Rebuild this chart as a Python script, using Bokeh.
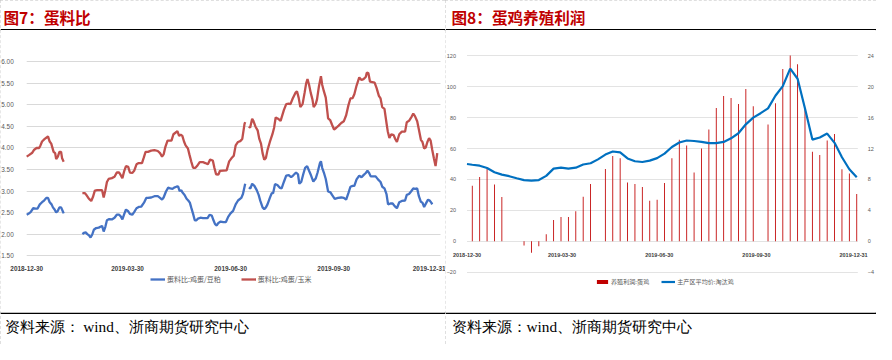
import pandas as pd
from bokeh.plotting import figure
from bokeh.models import (Range1d, LinearAxis, FixedTicker, NumeralTickFormatter,
                          DatetimeTickFormatter, Legend, LegendItem, Label, Span,
                          BoxAnnotation, ColumnDataSource)
from bokeh.layouts import row, column
from bokeh.embed import file_html
from bokeh.resources import INLINE

# ---------------- data ----------------
BASE = "2018-12-30"          # day 0 of the left chart (days since this date)

# 图7 蛋料比:鸡蛋/豆粕 (blue) — three segments separated by data gaps
soy_days_1 = [0, 1.5, 3.5, 5.8, 7.9, 9.6, 11.7, 13.7, 15.5, 17.5, 19.0, 20.5, 22.2, 23.4, 24.9,
              26.3, 27.8, 29.2, 30.7, 32.2, 33.0]
soy_vals_1 = [2.45, 2.47, 2.51, 2.60, 2.59, 2.59, 2.69, 2.74, 2.78, 2.84, 2.84, 2.74, 2.69, 2.62, 2.57,
              2.50, 2.54, 2.62, 2.62, 2.53, 2.48]
soy_days_2 = [49.7, 51.2, 52.6, 54.1, 55.6, 57.0, 58.5, 59.9, 62.0, 64.3,
              65.8, 67.3, 68.7, 70.2, 71.6, 73.7, 76.0, 78.4, 80.4, 82.5,
              84.2, 85.4, 87.1, 88.6, 90.6, 92.1, 94.2, 95.9, 98.0, 100.0,
              102.3, 104.7, 106.7, 108.2, 111.1, 114.0, 117.0, 119.0, 120.8, 122.2,
              124.3, 126.3, 128.1, 130.1, 131.6, 133.6, 135.1, 136.5, 138.0, 138.9,
              140.9, 142.7, 144.2, 145.6, 146.8, 148.5, 150.0, 151.5, 152.9, 155.0,
              157.3, 159.4, 161.4, 163.2, 165.2, 166.7, 168.1, 169.6, 171.1, 173.1,
              175.4, 177.8, 179.8, 181.9, 184.2, 186.5, 188.6, 191.5, 193.0, 195.0]
soy_vals_2 = [2.00, 2.03, 2.04, 2.00, 1.97, 1.92, 1.99, 2.10, 2.14, 2.15,
              2.17, 2.19, 2.06, 2.17, 2.32, 2.35, 2.34, 2.38, 2.45, 2.45,
              2.40, 2.34, 2.47, 2.57, 2.53, 2.47, 2.45, 2.51, 2.60, 2.63,
              2.64, 2.73, 2.84, 2.84, 2.85, 2.88, 2.88, 2.84, 2.80, 2.85,
              2.99, 3.08, 3.06, 3.05, 3.08, 3.10, 3.11, 3.00, 3.02, 2.97,
              2.91, 2.82, 2.78, 2.73, 2.62, 2.47, 2.32, 2.32, 2.36, 2.38,
              2.37, 2.37, 2.37, 2.45, 2.43, 2.32, 2.23, 2.20, 2.26, 2.29,
              2.28, 2.28, 2.40, 2.48, 2.54, 2.69, 2.78, 2.84, 2.93, 3.17]
soy_days_3 = [198.2, 199.7, 201.2, 203.2, 205.3, 207.0, 208.5, 210.5, 212.0, 213.5,
              214.9, 217.0, 218.7, 219.9, 221.6, 223.7, 225.7, 227.5, 229.5, 231.6,
              233.9, 236.0, 237.7, 240.4, 242.1, 243.3, 245.0, 246.8, 248.5, 250.3,
              252.0, 253.8, 255.8, 257.9, 259.6, 261.7, 262.6, 263.7, 265.2, 266.9,
              269.0, 271.1, 272.5, 274.9, 277.8, 280.7, 283.0, 285.1, 287.1, 288.9,
              290.9, 292.4, 294.4, 296.8, 298.8, 300.6, 302.6, 304.1, 305.6, 307.0,
              309.4, 311.4, 313.5, 315.8, 317.3, 319.3, 321.1, 322.5, 324.6, 326.6,
              328.4, 330.4, 332.5, 334.8, 337.7, 339.2, 341.2, 343.0, 345.0, 346.5,
              348.5, 350.0, 351.8, 353.2, 354.7, 356.7, 358.2, 359.6, 361.1, 361.9]
soy_vals_3 = [3.08, 3.06, 3.17, 3.12, 3.02, 2.91, 2.77, 2.62, 2.58, 2.62,
              2.69, 2.84, 2.95, 2.95, 3.16, 3.14, 3.08, 3.06, 3.21, 3.36,
              3.37, 3.32, 3.36, 3.43, 3.39, 3.17, 3.21, 3.39, 3.54, 3.58,
              3.47, 3.36, 3.22, 3.29, 3.43, 3.65, 3.69, 3.54, 3.43, 3.28,
              2.99, 2.97, 2.91, 2.82, 2.84, 2.85, 2.84, 2.80, 2.95, 3.10,
              3.12, 3.12, 3.27, 3.36, 3.32, 3.37, 3.42, 3.47, 3.42, 3.34,
              3.34, 3.34, 3.27, 3.21, 3.10, 3.06, 2.93, 2.69, 2.71, 2.71,
              2.65, 2.60, 2.74, 2.77, 2.78, 2.91, 2.93, 2.99, 3.06, 3.05,
              3.06, 2.88, 2.75, 2.73, 2.63, 2.73, 2.80, 2.78, 2.73, 2.69]

# 图7 蛋料比:鸡蛋/玉米 (red)
corn_days_1 = [0, 2.3, 5.0, 6.7, 8.8, 11.1, 12.3, 13.7, 16.1, 18.1, 19.0, 20.5, 21.9, 22.8, 24.0,
               25.4, 26.3, 27.8, 29.2, 30.7, 31.6, 33.0]
corn_vals_1 = [3.80, 3.84, 3.89, 3.96, 4.00, 4.00, 4.06, 4.15, 4.21, 4.25, 4.27, 4.15, 4.10, 4.02, 3.91,
               3.88, 3.74, 3.80, 3.91, 3.91, 3.76, 3.68]
corn_days_2 = [49.7, 52.0, 53.2, 55.0, 56.4, 57.6, 59.1, 60.8, 62.9, 65.8,
               67.3, 68.7, 70.2, 71.6, 73.1, 76.0, 78.4, 80.4, 82.5, 83.9,
               85.4, 87.1, 88.6, 90.6, 92.1, 94.2, 95.9, 98.0, 100.0, 102.9,
               104.4, 106.1, 108.2, 111.1, 114.0, 117.0, 119.0, 120.8, 122.2, 123.7,
               125.7, 128.1, 129.2, 131.0, 133.0, 134.5, 136.0, 137.4, 138.9, 140.4,
               141.8, 143.9, 145.3, 146.8, 148.5, 150.6, 152.0, 154.4, 157.3, 159.4,
               161.7, 163.7, 166.1, 167.5, 169.0, 171.1, 172.5, 178.4, 180.7, 182.7,
               184.8, 186.5, 188.6, 190.6, 192.4, 194.4, 195.0]
corn_vals_2 = [2.95, 2.95, 2.91, 2.84, 2.80, 2.77, 2.86, 3.01, 3.02, 3.02,
               3.02, 2.85, 3.02, 3.21, 3.28, 3.30, 3.33, 3.43, 3.43, 3.37,
               3.30, 3.47, 3.58, 3.56, 3.43, 3.42, 3.47, 3.62, 3.65, 3.65,
               3.77, 3.91, 3.91, 3.94, 3.95, 3.93, 3.88, 3.80, 3.85, 4.02,
               4.17, 4.17, 4.17, 4.32, 4.36, 4.39, 4.28, 4.31, 4.28, 4.15,
               4.06, 3.99, 3.84, 3.69, 3.54, 3.54, 3.58, 3.67, 3.67, 3.65,
               3.62, 3.73, 3.71, 3.54, 3.39, 3.38, 3.47, 3.48, 3.69, 3.76,
               3.82, 4.06, 4.14, 4.16, 4.21, 4.56, 4.60]
corn_days_3 = [198.2, 199.4, 201.2, 202.3, 204.1, 206.1, 207.6, 209.1, 210.5, 212.0,
               213.5, 214.9, 217.0, 219.3, 220.8, 222.2, 224.3, 226.6, 229.5, 231.6,
               233.9, 235.4, 237.4, 239.8, 241.2, 242.7, 244.2, 246.2, 248.0, 249.4,
               250.6, 252.0, 253.5, 255.0, 256.1, 257.9, 259.1, 260.8, 262.6, 263.7,
               265.2, 266.9, 269.0, 270.8, 272.5, 274.3, 276.3, 278.4, 280.7, 283.0,
               285.1, 287.1, 288.9, 290.9, 292.4, 294.4, 296.8, 298.8, 300.6, 302.6,
               303.5, 304.9, 306.4, 308.5, 310.5, 312.3, 314.3, 315.8, 317.3, 319.3,
               321.1, 322.2, 323.7, 325.4, 327.5, 328.9, 330.4, 332.5, 334.8, 337.7,
               339.2, 341.2, 343.6, 345.0, 346.5, 348.5, 350.0, 351.8, 353.2, 354.7,
               356.1, 357.6, 359.1, 360.5, 361.9, 363.4, 364.9, 366.4]
corn_vals_3 = [4.50, 4.47, 4.68, 4.63, 4.50, 4.41, 4.21, 4.10, 3.88, 3.73,
               3.77, 3.95, 4.14, 4.32, 4.47, 4.71, 4.68, 4.63, 4.88, 5.02,
               5.03, 5.02, 5.15, 5.28, 5.32, 5.17, 4.95, 5.02, 5.28, 5.50,
               5.60, 5.47, 5.28, 5.13, 4.95, 5.02, 5.13, 5.43, 5.67, 5.47,
               5.32, 5.17, 4.69, 4.65, 4.54, 4.43, 4.47, 4.52, 4.58, 4.62,
               4.76, 4.99, 5.15, 5.16, 5.25, 5.45, 5.64, 5.58, 5.60, 5.65,
               5.75, 5.74, 5.54, 5.53, 5.52, 5.39, 5.21, 5.15, 4.95, 4.91,
               4.58, 4.39, 4.23, 4.32, 4.30, 4.21, 4.14, 4.32, 4.38, 4.38,
               4.60, 4.63, 4.73, 4.80, 4.74, 4.62, 4.43, 4.19, 4.14, 3.99,
               4.01, 4.14, 4.23, 4.17, 3.96, 3.76, 3.58, 3.88]

left_ticks = ["2018-12-30", "2019-03-30", "2019-06-30", "2019-09-30", "2019-12-31"]
left_yticks = [1.5, 2.0, 2.5, 3.0, 3.5, 4.0, 4.5, 5.0, 5.5, 6.0]

# 图8 weekly (Friday) data
week_dates = ["2019-01-04", "2019-01-11", "2019-01-18", "2019-01-25", "2019-02-01", "2019-02-08",
              "2019-02-15", "2019-02-22", "2019-03-01", "2019-03-08", "2019-03-15", "2019-03-22",
              "2019-03-29", "2019-04-05", "2019-04-12", "2019-04-19", "2019-04-26", "2019-05-03",
              "2019-05-10", "2019-05-17", "2019-05-24", "2019-05-31", "2019-06-07", "2019-06-14",
              "2019-06-21", "2019-06-28", "2019-07-05", "2019-07-12", "2019-07-19", "2019-07-26",
              "2019-08-02", "2019-08-09", "2019-08-16", "2019-08-23", "2019-08-30", "2019-09-06",
              "2019-09-13", "2019-09-20", "2019-09-27", "2019-10-04", "2019-10-11", "2019-10-18",
              "2019-10-25", "2019-11-01", "2019-11-08", "2019-11-15", "2019-11-22", "2019-11-29",
              "2019-12-06", "2019-12-13", "2019-12-20", "2019-12-27", "2020-01-03"]
# 养殖利润:蛋鸡 (bars, right axis); None = no data that week
profit = [7.18, 8.33, 9.36, 7.34, 5.73, None, None, -0.54, -1.48, -0.66, 0.91, 2.76, 3.13, 3.13,
          3.88, 5.77, 7.42, None, 9.36, 11.05, 10.76, 7.59, 7.42, 7.01, 5.24, 5.36, 7.55, 10.76,
          13.15, 12.41, 8.91, 12.0, 14.47, 17.24, 18.80, 18.56, 17.77, 19.71, 17.48, None, 15.13,
          17.86, 22.31, 24.04, 22.93, 17.24, 11.59, 11.18, 13.03, 13.90, 9.32, 8.78, 6.10]
# 主产区平均价:淘汰鸡 (line, left axis)
hen_dates = ["2018-12-30"] + week_dates
hen_price = [50.0, 49.5, 48.9, 47.4, 44.7, 43.1, 42.1, 40.8, 39.6, 39.2, 39.6, 42.3, 47.0, 47.6,
             47.0, 47.6, 49.7, 50.5, 53.0, 56.1, 58.1, 57.5, 53.6, 51.8, 51.3, 52.2, 53.8, 56.7,
             61.0, 63.9, 65.2, 64.9, 64.3, 63.5, 63.5, 64.3, 66.6, 69.9, 75.7, 80.0, 82.9, 86.0,
             94.2, 100.4, 111.8, 105.2, 86.0, 65.8, 67.2, 69.7, 63.7, 54.4, 46.6, 41.4]
right_ticks = ["2018-12-30", "2019-03-30", "2019-06-30", "2019-09-30", "2019-12-31"]
right_yticks = [-20, 0, 20, 40, 60, 80, 100, 120]
profit_ticks = [-4, 0, 4, 8, 12, 16, 20, 24]

# ---------------- helpers ----------------
base = pd.Timestamp(BASE)


def day(d):
    return base + pd.Timedelta(days=d)


def join_segments(segs):
    xs, ys = [], []
    for i, (d, v) in enumerate(segs):
        if i:
            xs.append(xs[-1] + 1.0)
            ys.append(float("nan"))
        n = min(len(d), len(v))
        xs += list(d[:n])
        ys += list(v[:n])
    return [day(x) for x in xs], ys


def ms(t):
    return pd.Timestamp(t).value // 10**6


date_fmt = DatetimeTickFormatter(microseconds="%Y-%m-%d", milliseconds="%Y-%m-%d", seconds="%Y-%m-%d",
                                 minsec="%Y-%m-%d", minutes="%Y-%m-%d", hourmin="%Y-%m-%d",
                                 hours="%Y-%m-%d", days="%Y-%m-%d", months="%Y-%m-%d",
                                 years="%Y-%m-%d")

W_L, W_R = 445, 431
H_HEAD, H_CHART, H_FOOT = 30, 282, 32
TICK_FONT = "Liberation Sans"
BORDER = {"outline": "1px dashed #BFBFBF", "outline-offset": "-1px"}


def plain_fig(w, h):
    p = figure(width=w, height=h, x_range=Range1d(0, w), y_range=Range1d(0, h),
               x_axis_location=None, y_axis_location=None, min_border=0, frame_align=False,
               output_backend="svg", toolbar_location=None)
    p.grid.visible = False
    p.outline_line_color = None
    return p


def header_fig(w, text, x0):
    p = plain_fig(w, H_HEAD)
    p.add_layout(Label(x=x0, y=H_HEAD - 16, text=text, text_font="Noto Sans CJK SC",
                       text_font_size="15.6px", text_font_style="bold",
                       text_color="#C00000", text_baseline="middle"))
    p.add_layout(Span(location=0.75, dimension="width", line_color="black", line_width=1.5))
    return p


def footer_fig(w, text, x0):
    p = plain_fig(w, H_FOOT)
    p.add_layout(Span(location=H_FOOT - 0.75, dimension="width", line_color="black", line_width=1.5))
    p.add_layout(Label(x=x0, y=H_FOOT - 14, text=text, text_font="Liberation Serif",
                       text_font_size="15.3px", text_color="#000000", text_baseline="middle"))
    return p


def chart_fig(w, x0_px, x1_px, d1, y_at_top_px, ytop, y_at_bot_px, ybot):
    """Frame fills the figure; data span [day 0, day d1] sits between x0_px and x1_px."""
    ppd = (x1_px - x0_px) / d1
    ppu = (y_at_bot_px - y_at_top_px) / (ytop - ybot)
    xr = Range1d(day(-x0_px / ppd), day((w - x0_px) / ppd))
    yr = Range1d(ybot - (H_CHART - y_at_bot_px) / ppu, ytop + y_at_top_px / ppu)
    p = figure(width=w, height=H_CHART, x_axis_type="datetime", x_range=xr, y_range=yr,
               min_border=0, frame_align=False, output_backend="svg", toolbar_location=None)
    p.xgrid.visible = False
    p.outline_line_color = None
    # keep horizontal gridlines inside the data span only
    p.add_layout(BoxAnnotation(right=ms(base), fill_color="white", fill_alpha=1.0,
                               line_color=None, level="underlay"))
    p.add_layout(BoxAnnotation(left=ms(day(d1)), fill_color="white", fill_alpha=1.0,
                               line_color=None, level="underlay"))
    return p


def style_axes(p, size):
    for ax in p.axis:
        ax.axis_line_color = None
        ax.major_tick_line_color = None
        ax.minor_tick_line_color = None
        ax.major_label_text_font = TICK_FONT
        ax.major_label_text_font_size = size
        ax.major_label_text_color = "#595959"
    p.xaxis.major_label_text_font_style = "bold"
    p.xaxis.major_label_text_color = "#404040"


# ---------------- left chart ----------------
soy_x, soy_y = join_segments([(soy_days_1, soy_vals_1), (soy_days_2, soy_vals_2), (soy_days_3, soy_vals_3)])
corn_x, corn_y = join_segments([(corn_days_1, corn_vals_1), (corn_days_2, corn_vals_2), (corn_days_3, corn_vals_3)])

pl = chart_fig(W_L, 26.2, 440.0, 369.3, 31.4, 6.0, 225.1, 1.5)
r_soy = pl.line(soy_x, soy_y, line_color="#4472C4", line_width=2.3)
r_corn = pl.line(corn_x, corn_y, line_color="#C0504D", line_width=2.3)
pl.ygrid.grid_line_color = "#D9D9D9"
pl.xaxis.ticker = FixedTicker(ticks=[ms(t) for t in left_ticks])
pl.xaxis.formatter = date_fmt
pl.xaxis.fixed_location = 1.5
pl.xaxis.major_label_standoff = 4
pl.yaxis.ticker = FixedTicker(ticks=left_yticks)
pl.yaxis.formatter = NumeralTickFormatter(format="0.00")
pl.yaxis.fixed_location = ms(base)
pl.yaxis.major_label_standoff = 7
style_axes(pl, "6.4px")
leg_l = Legend(items=[LegendItem(label="蛋料比:鸡蛋/豆粕", renderers=[r_soy]),
                      LegendItem(label="蛋料比:鸡蛋/玉米", renderers=[r_corn])],
               orientation="horizontal", location=(150, 28), margin=0, padding=0, spacing=20,
               glyph_width=15, glyph_height=8, label_standoff=2,
               label_text_font="Noto Sans CJK SC", label_text_font_size="7px",
               label_text_color="#595959", border_line_color=None, background_fill_alpha=0)
pl.add_layout(leg_l, "center")

# ---------------- right chart ----------------
bar_src = ColumnDataSource(dict(
    date=[pd.Timestamp(d) for d, v in zip(week_dates, profit) if v is not None],
    profit=[v for v in profit if v is not None]))
line_src = ColumnDataSource(dict(date=[pd.Timestamp(d) for d in hen_dates], price=hen_price))

pr = chart_fig(W_R, 21.5, 412.3, 370.0, 25.4, 120, 241.6, -20)
pr.extra_y_ranges = {"profit": Range1d(pr.y_range.start / 5, pr.y_range.end / 5)}
pr.ygrid.grid_line_color = "#E3E3E3"
r_bar = pr.vbar(x="date", top="profit", bottom=0, width=70000000, source=bar_src,
                y_range_name="profit", fill_color="#C00000", line_color=None)
r_hen = pr.line(x="date", y="price", source=line_src, line_color="#0070C0", line_width=2.2)
pr.add_layout(LinearAxis(y_range_name="profit", ticker=FixedTicker(ticks=profit_ticks),
                         fixed_location=ms(day(370.0)), major_label_standoff=4), "right")
pr.xaxis.ticker = FixedTicker(ticks=[ms(t) for t in right_ticks])
pr.xaxis.formatter = date_fmt
pr.xaxis.fixed_location = 0
pr.xaxis.major_label_standoff = 6
pr.yaxis[0].ticker = FixedTicker(ticks=right_yticks)
pr.yaxis[0].fixed_location = ms(base)
pr.yaxis[0].major_label_standoff = 5
style_axes(pr, "5.5px")
leg_r = Legend(items=[LegendItem(label="养殖利润:蛋鸡", renderers=[r_bar]),
                      LegendItem(label="主产区平均价:淘汰鸡", renderers=[r_hen])],
               orientation="horizontal", location=(150, 26), margin=0, padding=0, spacing=12,
               glyph_width=14, glyph_height=5, label_standoff=2,
               label_text_font="Noto Sans CJK SC", label_text_font_size="6.1px",
               label_text_color="#595959", border_line_color=None, background_fill_alpha=0)
pr.add_layout(leg_r, "center")

# ---------------- assembly ----------------
colL = column(header_fig(W_L, "图7：蛋料比", 3), pl,
              footer_fig(W_L, "资料来源：  wind、浙商期货研究中心", 4), styles=BORDER)
colR = column(header_fig(W_R, "图8：蛋鸡养殖利润", 6), pr,
              footer_fig(W_R, "资料来源：wind、浙商期货研究中心", 6), styles=BORDER)
layout = row(colL, colR)

open("out.html", "w").write(file_html(layout, INLINE))
